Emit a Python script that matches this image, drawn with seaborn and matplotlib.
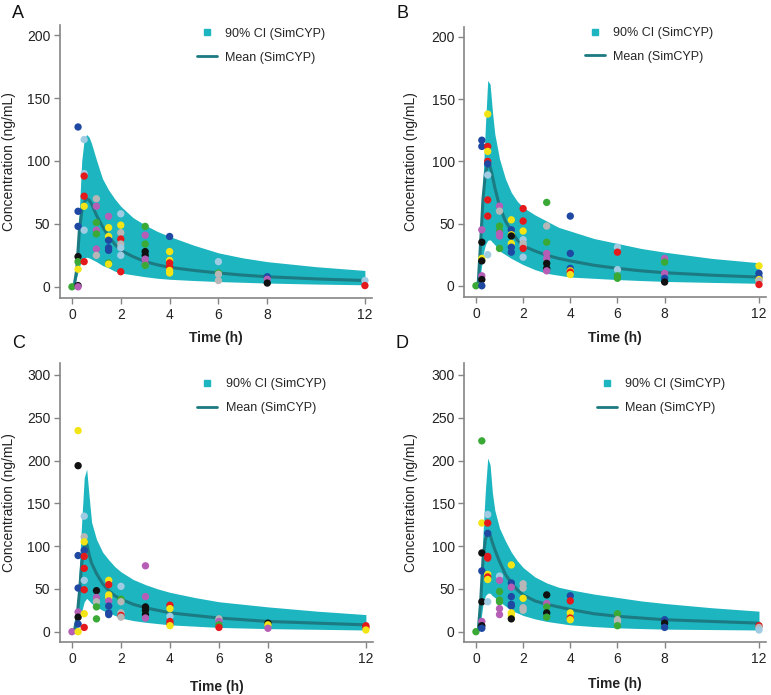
import pandas as pd
import matplotlib
matplotlib.use('Agg')
import matplotlib.pyplot as plt
import seaborn as sns
from matplotlib.lines import Line2D

sns.set_style('ticks')
plt.rcParams['font.family'] = ['Liberation Sans', 'DejaVu Sans']

# subject colours used for the observed points
DOT_COLORS = {'db': '#1f48a3', 'lb': '#9fcbe3', 'r': '#e4191c', 'y': '#f3e415',
              'm': '#b65db6', 'g': '#3aa936', 'k': '#111111', 'gr': '#b7b7b7'}
BAND = '#1db5bf'
MEAN_LINE = '#1b7a82'
AXIS_GREY = '#858585'

# simulated (SimCYP) time grid, h
sim_time = [0, 0.1, 0.2, 0.3, 0.4, 0.5, 0.6, 0.7, 0.8, 1.0, 1.25, 1.5, 1.75, 2,
            2.5, 3, 3.5, 4, 5, 6, 7, 8, 10, 12]

# panel A
a_mean = [0, 2, 14, 44, 60, 67, 70, 69, 66, 57, 48, 40, 34, 29, 24, 20, 17.5, 15.5, 13, 11, 9.3, 8, 6.3, 5]
a_lo = [0, 1, 8, 16, 21, 23, 23.5, 23, 22, 20, 17, 15, 12.5, 11, 9.5, 8, 6.8, 6, 5, 4.2, 3.6, 3, 2.2, 1.6]
a_hi = [0, 2, 28, 59, 100, 117, 121, 119, 114, 101, 86, 77, 70, 64, 55, 49, 44, 40, 33, 27, 23, 20, 16, 13]
obs_a = [
    (0, 0, 'g'),
    (0.25, 127, 'db'), (0.25, 60, 'db'), (0.25, 48, 'db'), (0.25, 24, 'k'), (0.25, 20, 'g'),
    (0.25, 14, 'y'), (0.25, 1, 'k'), (0.25, 0, 'm'),
    (0.5, 117, 'lb'), (0.5, 90, 'lb'), (0.5, 88, 'r'), (0.5, 72, 'r'), (0.5, 64, 'y'),
    (0.5, 45, 'lb'), (0.5, 20, 'r'),
    (1, 70, 'gr'), (1, 64, 'm'), (1, 51, 'g'), (1, 45, 'm'), (1, 42, 'g'), (1, 30, 'm'), (1, 25, 'gr'),
    (1.5, 56, 'm'), (1.5, 47, 'y'), (1.5, 40, 'y'), (1.5, 37, 'db'), (1.5, 31, 'db'),
    (1.5, 29, 'db'), (1.5, 19, 'g'), (1.5, 18, 'y'),
    (2, 58, 'lb'), (2, 49, 'y'), (2, 43, 'gr'), (2, 38, 'r'), (2, 34, 'gr'), (2, 31, 'lb'),
    (2, 25, 'lb'), (2, 12, 'r'),
    (3, 48, 'g'), (3, 41, 'm'), (3, 34, 'g'), (3, 28, 'k'), (3, 25, 'k'), (3, 22, 'm'),
    (3, 18, 'm'), (3, 17, 'g'),
    (4, 40, 'db'), (4, 28, 'y'), (4, 21, 'y'), (4, 19, 'r'), (4, 16, 'r'), (4, 13, 'y'), (4, 11, 'y'),
    (6, 20, 'lb'), (6, 11, 'g'), (6, 10, 'gr'), (6, 5, 'gr'),
    (8, 8, 'db'), (8, 6, 'm'), (8, 3, 'k'),
    (12, 5, 'lb'), (12, 1, 'r'),
]

# panel B
b_mean = [0, 3, 35, 70, 90, 97, 96, 88, 79, 64, 52, 44, 37, 32, 28, 24.5, 22, 20, 16.5, 14, 12, 10.5, 8.5, 7]
b_lo = [0, 1, 10, 25, 33, 36.5, 37, 35, 33, 28, 25, 22, 19.5, 17, 13, 10, 8.5, 7, 6, 5, 4.2, 3.5, 2.7, 2]
b_hi = [0, 5, 45, 85, 128, 165, 162, 140, 122, 102, 86, 75, 68, 63, 57, 52, 47, 44, 38, 34, 30, 27, 22, 18.5]
obs_b = [
    (0, 0, 'g'),
    (0.25, 117, 'db'), (0.25, 112, 'db'), (0.25, 45, 'm'), (0.25, 35, 'k'), (0.25, 22, 'y'),
    (0.25, 20, 'k'), (0.25, 8, 'm'), (0.25, 5, 'k'), (0.25, 0, 'db'),
    (0.5, 138, 'y'), (0.5, 112, 'r'), (0.5, 108, 'y'), (0.5, 100, 'r'), (0.5, 98, 'db'),
    (0.5, 89, 'lb'), (0.5, 69, 'r'), (0.5, 56, 'r'), (0.5, 25, 'lb'),
    (1, 64, 'm'), (1, 60, 'gr'), (1, 48, 'g'), (1, 44, 'g'), (1, 42, 'm'), (1, 40, 'm'), (1, 30, 'g'),
    (1.5, 53, 'y'), (1.5, 45, 'db'), (1.5, 41, 'y'), (1.5, 40, 'k'), (1.5, 34, 'y'),
    (1.5, 31, 'db'), (1.5, 27, 'db'),
    (2, 62, 'r'), (2, 52, 'r'), (2, 44, 'y'), (2, 37, 'lb'), (2, 34, 'gr'), (2, 32, 'gr'),
    (2, 30, 'r'), (2, 23, 'lb'),
    (3, 67, 'g'), (3, 48, 'gr'), (3, 35, 'g'), (3, 26, 'm'), (3, 22, 'm'), (3, 18, 'k'),
    (3, 14, 'k'), (3, 12, 'm'),
    (4, 56, 'db'), (4, 26, 'db'), (4, 14, 'db'), (4, 12, 'y'), (4, 11, 'r'), (4, 9, 'y'),
    (6, 31, 'lb'), (6, 27, 'r'), (6, 13, 'lb'), (6, 8, 'g'), (6, 6, 'g'),
    (8, 22, 'm'), (8, 19, 'g'), (8, 10, 'm'), (8, 6, 'db'), (8, 3, 'k'),
    (12, 16, 'y'), (12, 10, 'db'), (12, 7, 'db'), (12, 5, 'y'), (12, 4, 'gr'), (12, 1, 'r'),
]

# panel C
c_mean = [0, 2, 15, 45, 80, 100, 103, 90, 80, 68, 56, 48, 42, 38, 32, 28, 25, 22, 19, 16, 14, 12, 10, 8]
c_lo = [0, 0.5, 5, 14, 24, 35, 39, 36, 33, 29, 25, 22, 19, 16, 13, 11, 9.5, 8, 6.5, 5, 4.3, 3.6, 2.8, 2]
c_hi = [0, 3, 25, 75, 130, 180, 190, 158, 128, 108, 93, 84, 76, 70, 61, 55, 50, 46, 40, 35, 32, 29, 24, 20]
obs_c = [
    (0, 0, 'm'),
    (0.25, 235, 'y'), (0.25, 194, 'k'), (0.25, 89, 'db'), (0.25, 51, 'db'), (0.25, 23, 'm'),
    (0.25, 17, 'k'), (0.25, 9, 'db'), (0.25, 0, 'y'),
    (0.5, 135, 'lb'), (0.5, 111, 'gr'), (0.5, 105, 'y'), (0.5, 95, 'db'), (0.5, 88, 'r'),
    (0.5, 74, 'r'), (0.5, 60, 'lb'), (0.5, 49, 'r'), (0.5, 21, 'y'), (0.5, 5, 'r'),
    (1, 48, 'k'), (1, 40, 'm'), (1, 35, 'gr'), (1, 29, 'g'), (1, 15, 'g'),
    (1.5, 60, 'y'), (1.5, 55, 'r'), (1.5, 43, 'y'), (1.5, 40, 'y'), (1.5, 36, 'm'),
    (1.5, 30, 'db'), (1.5, 22, 'db'), (1.5, 20, 'db'),
    (2, 53, 'lb'), (2, 38, 'g'), (2, 35, 'gr'), (2, 22, 'gr'), (2, 19, 'r'), (2, 17, 'gr'),
    (3, 77, 'm'), (3, 41, 'm'), (3, 29, 'k'), (3, 25, 'k'), (3, 20, 'k'), (3, 16, 'm'),
    (4, 31, 'r'), (4, 27, 'y'), (4, 18, 'lb'), (4, 12, 'r'), (4, 9, 'r'), (4, 7, 'y'),
    (6, 15, 'gr'), (6, 12, 'm'), (6, 8, 'g'), (6, 5, 'r'),
    (8, 10, 'k'), (8, 8, 'y'), (8, 4, 'm'),
    (12, 7, 'r'), (12, 5, 'r'), (12, 2, 'y'),
]

# panel D
d_mean = [0, 2, 35, 85, 108, 115, 113, 104, 96, 82, 67, 57, 49, 43, 36, 32, 29, 26, 21, 18, 16, 14, 12, 10]
d_lo = [0, 1, 12, 32, 42, 45, 45, 42, 40, 35, 30, 25, 22, 19, 15, 12, 10, 8, 6, 4.5, 3.7, 3, 2.5, 2]
d_hi = [0, 5, 50, 115, 165, 203, 195, 162, 142, 121, 106, 93, 83, 75, 64, 57, 52, 49, 44, 40, 36, 33, 28, 24]
obs_d = [
    (0, 0, 'g'),
    (0.25, 223, 'g'), (0.25, 127, 'y'), (0.25, 92, 'k'), (0.25, 71, 'db'), (0.25, 35, 'k'),
    (0.25, 12, 'm'), (0.25, 7, 'k'), (0.25, 4, 'db'),
    (0.5, 137, 'lb'), (0.5, 127, 'r'), (0.5, 115, 'db'), (0.5, 88, 'r'), (0.5, 86, 'r'),
    (0.5, 67, 'y'), (0.5, 64, 'r'), (0.5, 61, 'y'), (0.5, 35, 'lb'),
    (1, 65, 'lb'), (1, 60, 'm'), (1, 47, 'g'), (1, 37, 'g'), (1, 35, 'g'), (1, 27, 'm'), (1, 20, 'm'),
    (1.5, 78, 'y'), (1.5, 57, 'db'), (1.5, 52, 'm'), (1.5, 41, 'db'), (1.5, 32, 'db'),
    (1.5, 30, 'db'), (1.5, 22, 'y'), (1.5, 19, 'y'), (1.5, 15, 'k'),
    (2, 56, 'gr'), (2, 51, 'gr'), (2, 39, 'y'), (2, 28, 'gr'), (2, 25, 'gr'),
    (3, 43, 'k'), (3, 33, 'm'), (3, 29, 'g'), (3, 22, 'k'), (3, 17, 'g'),
    (4, 42, 'db'), (4, 36, 'r'), (4, 22, 'y'), (4, 16, 'y'), (4, 16, 'r'), (4, 14, 'y'),
    (6, 21, 'g'), (6, 14, 'gr'), (6, 12, 'gr'), (6, 7, 'g'),
    (8, 14, 'db'), (8, 10, 'k'), (8, 5, 'db'),
    (12, 7, 'r'), (12, 5, 'gr'), (12, 2, 'lb'),
]

x_ticks = [0, 2, 4, 6, 8, 12]
y_ticks_ab = [0, 50, 100, 150, 200]
y_ticks_cd = [0, 50, 100, 150, 200, 250, 300]


def draw_panel(ax, obs, mean, lo, hi, yticks, ylim, legend_xy, ylabel_x, xlabel_y):
    # 90% CI band and mean of the simulation
    ax.fill_between(sim_time, lo, hi, color=BAND, linewidth=0, zorder=1)
    sns.lineplot(x=sim_time, y=mean, ax=ax, color=MEAN_LINE, linewidth=2.2, sort=False, zorder=2)

    # observed concentrations, one colour per subject
    df = pd.DataFrame(obs, columns=['time', 'conc', 'subj'])
    sns.scatterplot(data=df, x='time', y='conc', hue='subj', palette=DOT_COLORS,
                    s=28, linewidth=0, legend=False, ax=ax, zorder=3)

    ax.set_xlim(-0.49, 12.29)
    ax.set_ylim(*ylim)
    ax.set_xticks(x_ticks)
    ax.set_yticks(yticks)
    sns.despine(ax=ax)
    for side in ['left', 'bottom']:
        ax.spines[side].set_color(AXIS_GREY)
        ax.spines[side].set_linewidth(1.2)
    ax.tick_params(direction='out', length=4, width=1, color=AXIS_GREY,
                   labelsize=10, labelcolor='#222222', pad=3)

    ax.set_xlabel('Time (h)', fontsize=10, fontweight='bold', color='#222222')
    ax.set_ylabel('Concentration (ng/mL)', fontsize=10, color='#222222')
    ax.xaxis.set_label_coords(0.5, xlabel_y)
    ax.yaxis.set_label_coords(ylabel_x, 0.5)

    handles = [Line2D([], [], marker='s', linestyle='', color=BAND, markersize=5),
               Line2D([], [], color=MEAN_LINE, linewidth=2)]
    ax.legend(handles, ['90% CI (SimCYP)', 'Mean (SimCYP)'], loc='upper left',
              bbox_to_anchor=legend_xy, frameon=False, fontsize=9, borderpad=0,
              handlelength=1.6, handletextpad=0.65, labelspacing=0.95, borderaxespad=0)


fig = plt.figure(figsize=(7.71, 6.95), dpi=100)
ax_a = fig.add_axes([0.0778, 0.571, 0.4047, 0.393])
ax_b = fig.add_axes([0.6023, 0.5727, 0.391, 0.3885])
ax_c = fig.add_axes([0.0778, 0.0763, 0.406, 0.4014])
ax_d = fig.add_axes([0.6023, 0.0763, 0.391, 0.4014])

draw_panel(ax_a, obs_a, a_mean, a_lo, a_hi, y_ticks_ab, (-9, 208), (0.439, 0.99), -0.14, -0.12)
draw_panel(ax_b, obs_b, b_mean, b_lo, b_hi, y_ticks_ab, (-9, 208), (0.40, 1.0), -0.155, -0.125)
draw_panel(ax_c, obs_c, c_mean, c_lo, c_hi, y_ticks_cd, (-12, 314), (0.439, 0.946), -0.14, -0.136)
draw_panel(ax_d, obs_d, d_mean, d_lo, d_hi, y_ticks_cd, (-12, 314), (0.44, 0.946), -0.155, -0.125)

for letter, x, y in [('A', 12, 14), ('B', 397, 14), ('C', 12, 344), ('D', 396, 344)]:
    fig.text(x / 771, 1 - y / 695, letter, fontsize=13, va='center', ha='left', color='#111111')

fig.savefig('out.png', dpi=100)
